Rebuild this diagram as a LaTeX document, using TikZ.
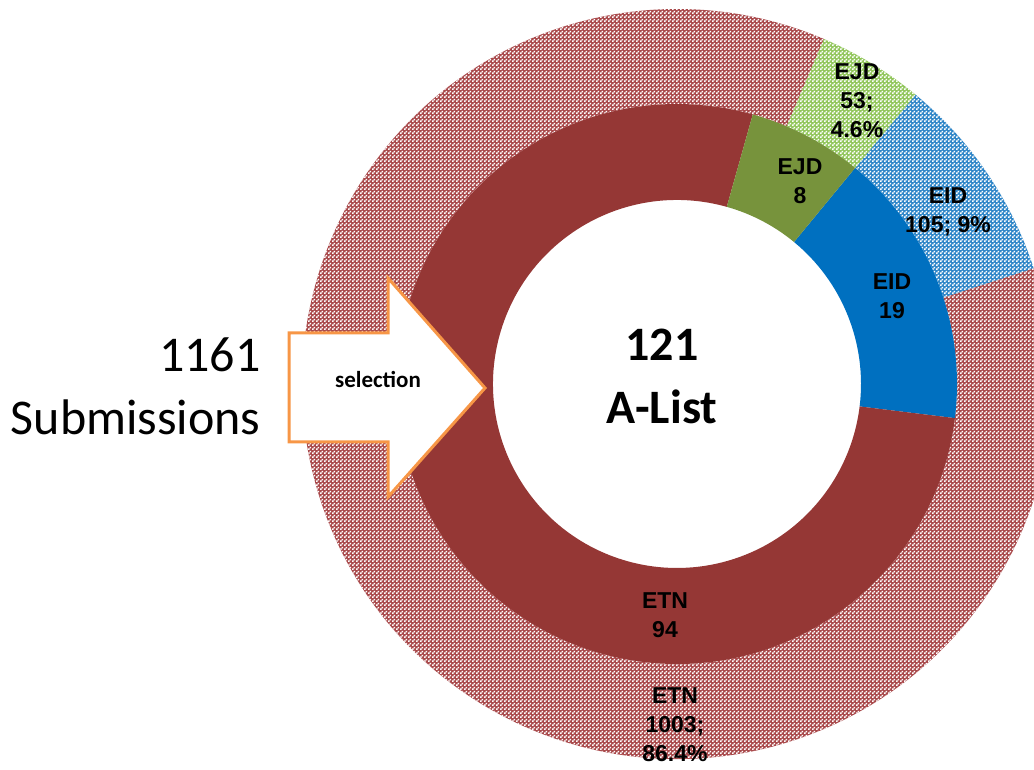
\documentclass[tikz,border=0pt]{standalone}
\usepackage{fontspec}
\setmainfont{Carlito}
\newfontfamily\arialfont{Liberation Sans}
\usetikzlibrary{calc,patterns}
% fine checker for the outer ring
\pgfdeclarepatternformonly{checker}{\pgfpointorigin}{\pgfqpoint{2pt}{2pt}}{\pgfqpoint{2pt}{2pt}}{%
  \pgfpathrectangle{\pgfpointorigin}{\pgfqpoint{1pt}{1pt}}%
  \pgfpathrectangle{\pgfqpoint{1pt}{1pt}}{\pgfqpoint{1pt}{1pt}}%
  \pgfusepath{fill}}
\definecolor{etnDark}{HTML}{953735}
\definecolor{ejdDark}{HTML}{77933C}
\definecolor{eidDark}{HTML}{0070C0}
\definecolor{etnLight}{HTML}{A9494B}
\definecolor{ejdLight}{HTML}{92C65C}
\definecolor{eidLight}{HTML}{2F86C8}
\definecolor{arrowOrange}{HTML}{F79646}
\tikzset{
    seg label/.style={font=\arialfont\bfseries\fontsize{11.5}{14.5}\selectfont, align=center}, % ring labels
    light ring/.style={fill=#1, postaction={pattern=checker, pattern color=white}} % outer ring pieces
}

\begin{document}
\begin{tikzpicture}[x=0.5pt, y=0.5pt]
    \def\rin{184} \def\rmid{280} \def\rout{375}
    \clip (0,0) rectangle (1034,770);
    \coordinate (C) at (677,386);

    \foreach \a/\b/\col in {50.5/17.94/eidLight, 17.94/-293.07/etnLight, -293.07/-309.5/ejdLight}
        \fill[light ring=\col] ($(C)+(\a:\rout)$) arc[start angle=\a, end angle=\b, radius=\rout] -- ($(C)+(\b:\rmid)$) arc[start angle=\b, end angle=\a, radius=\rmid] -- cycle;
    \foreach \a/\b/\col in {50.5/-7/eidDark, -7/-285.7/etnDark, -285.7/-309.5/ejdDark}
        \fill[\col] ($(C)+(\a:\rmid)$) arc[start angle=\a, end angle=\b, radius=\rmid] -- ($(C)+(\b:\rin)$) arc[start angle=\b, end angle=\a, radius=\rin] -- cycle;

    \node[seg label] (ejdOut) at (857,669) {EJD\\53;\\4.6\%};
    \node[seg label] (ejdIn) at (800,589) {EJD\\8};
    \node[seg label] (eidOut) at (948,558) {EID\\105; 9\%};
    \node[seg label] (eidIn) at (892,474) {EID\\19};
    \node[seg label] (etnIn) at (665,155) {ETN\\94};
    \node[seg label] (etnOut) at (675,45) {ETN\\1003;\\86.4\%};

    \node[font=\bfseries\fontsize{24}{31.5}\selectfont, align=center] (alist) at (662,394) {121\\A-List};
    \node[font=\fontsize{25}{31.5}\selectfont, align=right, anchor=east, inner sep=0pt] (subm) at (261,384) {1161\\Submissions};

    \draw[arrowOrange, line width=1.5pt, fill=white] (289,437) -- (388,437) -- (388,492) -- (485,382) -- (388,273) -- (388,328) -- (289,328) -- cycle;
    \node[font=\bfseries\fontsize{11.5}{14}\selectfont] (sel) at (378,390) {selection};
\end{tikzpicture}
\end{document}
